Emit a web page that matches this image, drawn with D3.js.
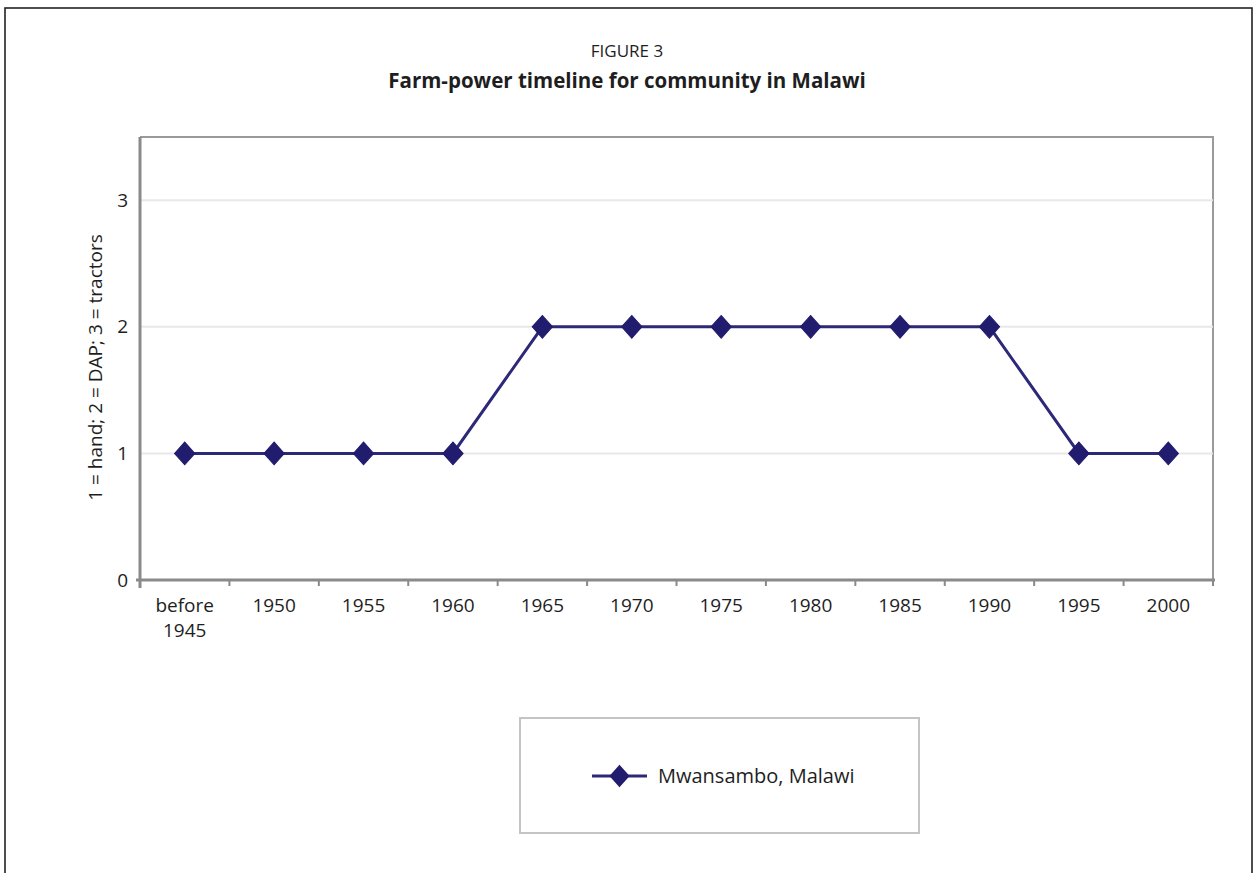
<!DOCTYPE html>
<html>
<head>
<meta charset="utf-8">
<script src="https://cdn.jsdelivr.net/npm/d3@7"></script>
<style>
  html, body { margin: 0; padding: 0; background: #fff; }
  svg { display: block; font-family: "Open Sans", "Noto Sans", sans-serif; }
</style>
</head>
<body>
<svg id="chart" width="1254" height="873"></svg>
<script>
// Farm-power level per period: 1 = hand, 2 = DAP, 3 = tractors
const categories = ["before\n1945", "1950", "1955", "1960", "1965", "1970", "1975", "1980", "1985", "1990", "1995", "2000"];
const powerLevel = [1, 1, 1, 1, 2, 2, 2, 2, 2, 2, 1, 1];
const yTicks = [0, 1, 2, 3];
const seriesName = "Mwansambo, Malawi";
const figureLabel = "FIGURE 3";
const titleText = "Farm-power timeline for community in Malawi";
const yAxisLabel = "1 = hand; 2 = DAP; 3 = tractors";

const svg = d3.select("#chart");
const lineColor = "#2d2878";
const markerColor = "#221c6e";
const textColor = "#1e1e1e";

// Outer frame
svg.append("rect")
  .attr("x", 5).attr("y", 8).attr("width", 1247).attr("height", 880)
  .attr("fill", "none").attr("stroke", "#222").attr("stroke-width", 1.6);

// Titles
svg.append("text").attr("x", 627).attr("y", 57).attr("text-anchor", "middle")
  .attr("font-size", 17).attr("fill", textColor).text(figureLabel);
svg.append("text").attr("x", 627).attr("y", 88).attr("text-anchor", "middle")
  .attr("font-size", 20.5).attr("font-weight", "bold").attr("fill", textColor).text(titleText);

// Plot area
const plot = { left: 140, right: 1213, top: 137, bottom: 580 };

const x = d3.scaleBand().domain(categories).range([plot.left, plot.right]).paddingInner(0).paddingOuter(0);
const y = d3.scaleLinear().domain([0, 3.5]).range([plot.bottom, plot.top]);

// Plot border (top and right, light gray)
svg.append("path")
  .attr("d", `M${plot.left},${plot.top}H${plot.right}V${plot.bottom}`)
  .attr("fill", "none").attr("stroke", "#9a9a9a").attr("stroke-width", 2);

// Horizontal grid lines
svg.append("g").selectAll("line").data(yTicks.filter(d => d > 0)).join("line")
  .attr("x1", plot.left).attr("x2", plot.right)
  .attr("y1", d => y(d)).attr("y2", d => y(d))
  .attr("stroke", "#e8e8e8").attr("stroke-width", 2);

// Y axis
const yAxis = svg.append("g").attr("transform", `translate(${plot.left},0)`)
  .call(d3.axisLeft(y).tickValues(yTicks).tickSize(0).tickPadding(12).tickFormat(d3.format("d")));
yAxis.select(".domain").remove();
yAxis.selectAll("text").attr("font-size", 19).attr("fill", textColor).attr("font-family", "Open Sans, sans-serif");
svg.append("line").attr("x1", plot.left).attr("x2", plot.left)
  .attr("y1", plot.top).attr("y2", plot.bottom + 8)
  .attr("stroke", "#8a8a8a").attr("stroke-width", 3);

// X axis with ticks between categories
const xAxisG = svg.append("g").attr("transform", `translate(0,${plot.bottom})`);
xAxisG.append("line").attr("x1", plot.left - 4).attr("x2", plot.right + 2)
  .attr("y1", 0).attr("y2", 0).attr("stroke", "#8a8a8a").attr("stroke-width", 3);
xAxisG.selectAll("line.tick").data(categories).join("line")
  .attr("class", "tick")
  .attr("x1", d => x(d) + x.bandwidth())
  .attr("x2", d => x(d) + x.bandwidth())
  .attr("y1", 0).attr("y2", 6)
  .attr("stroke", "#8a8a8a").attr("stroke-width", 2);
const xLabels = xAxisG.selectAll("text").data(categories).join("text")
  .attr("x", d => x(d) + x.bandwidth() / 2)
  .attr("y", 32)
  .attr("text-anchor", "middle").attr("font-size", 19).attr("fill", textColor);
xLabels.each(function(d) {
  const parts = d.split("\n");
  const t = d3.select(this);
  parts.forEach((p, i) => {
    t.append("tspan").attr("x", x(d) + x.bandwidth() / 2).attr("dy", i === 0 ? 0 : 25).text(p);
  });
});

// Y axis title
svg.append("text")
  .attr("transform", `translate(102,${(plot.top + plot.bottom) / 2 + 9}) rotate(-90)`)
  .attr("text-anchor", "middle").attr("font-size", 19).attr("fill", textColor)
  .text(yAxisLabel);

// Diamond marker: a rotated square, slightly taller than wide
const diamondPath = d3.symbol().type(d3.symbolSquare).size(205)();
const diamondTransform = (cx, cy) => `translate(${cx},${cy}) scale(1,1.12) rotate(45)`;

// Series line
const pts = categories.map((c, i) => [x(c) + x.bandwidth() / 2, y(powerLevel[i])]);
svg.append("path")
  .attr("d", d3.line()(pts))
  .attr("fill", "none").attr("stroke", lineColor).attr("stroke-width", 3);

svg.append("g").selectAll("path").data(pts).join("path")
  .attr("transform", d => diamondTransform(d[0], d[1]))
  .attr("d", diamondPath)
  .attr("fill", markerColor).attr("stroke", markerColor).attr("stroke-width", 1);

// Legend
svg.append("rect").attr("x", 520).attr("y", 718).attr("width", 399).attr("height", 115)
  .attr("fill", "#fff").attr("stroke", "#c4c4c4").attr("stroke-width", 2);
svg.append("line").attr("x1", 592).attr("x2", 647).attr("y1", 776).attr("y2", 776)
  .attr("stroke", lineColor).attr("stroke-width", 3);
svg.append("path").attr("transform", diamondTransform(619.5, 776))
  .attr("d", diamondPath).attr("fill", markerColor);
svg.append("text").attr("x", 658).attr("y", 783).attr("font-size", 20).attr("fill", textColor)
  .text(seriesName);
</script>
</body>
</html>
